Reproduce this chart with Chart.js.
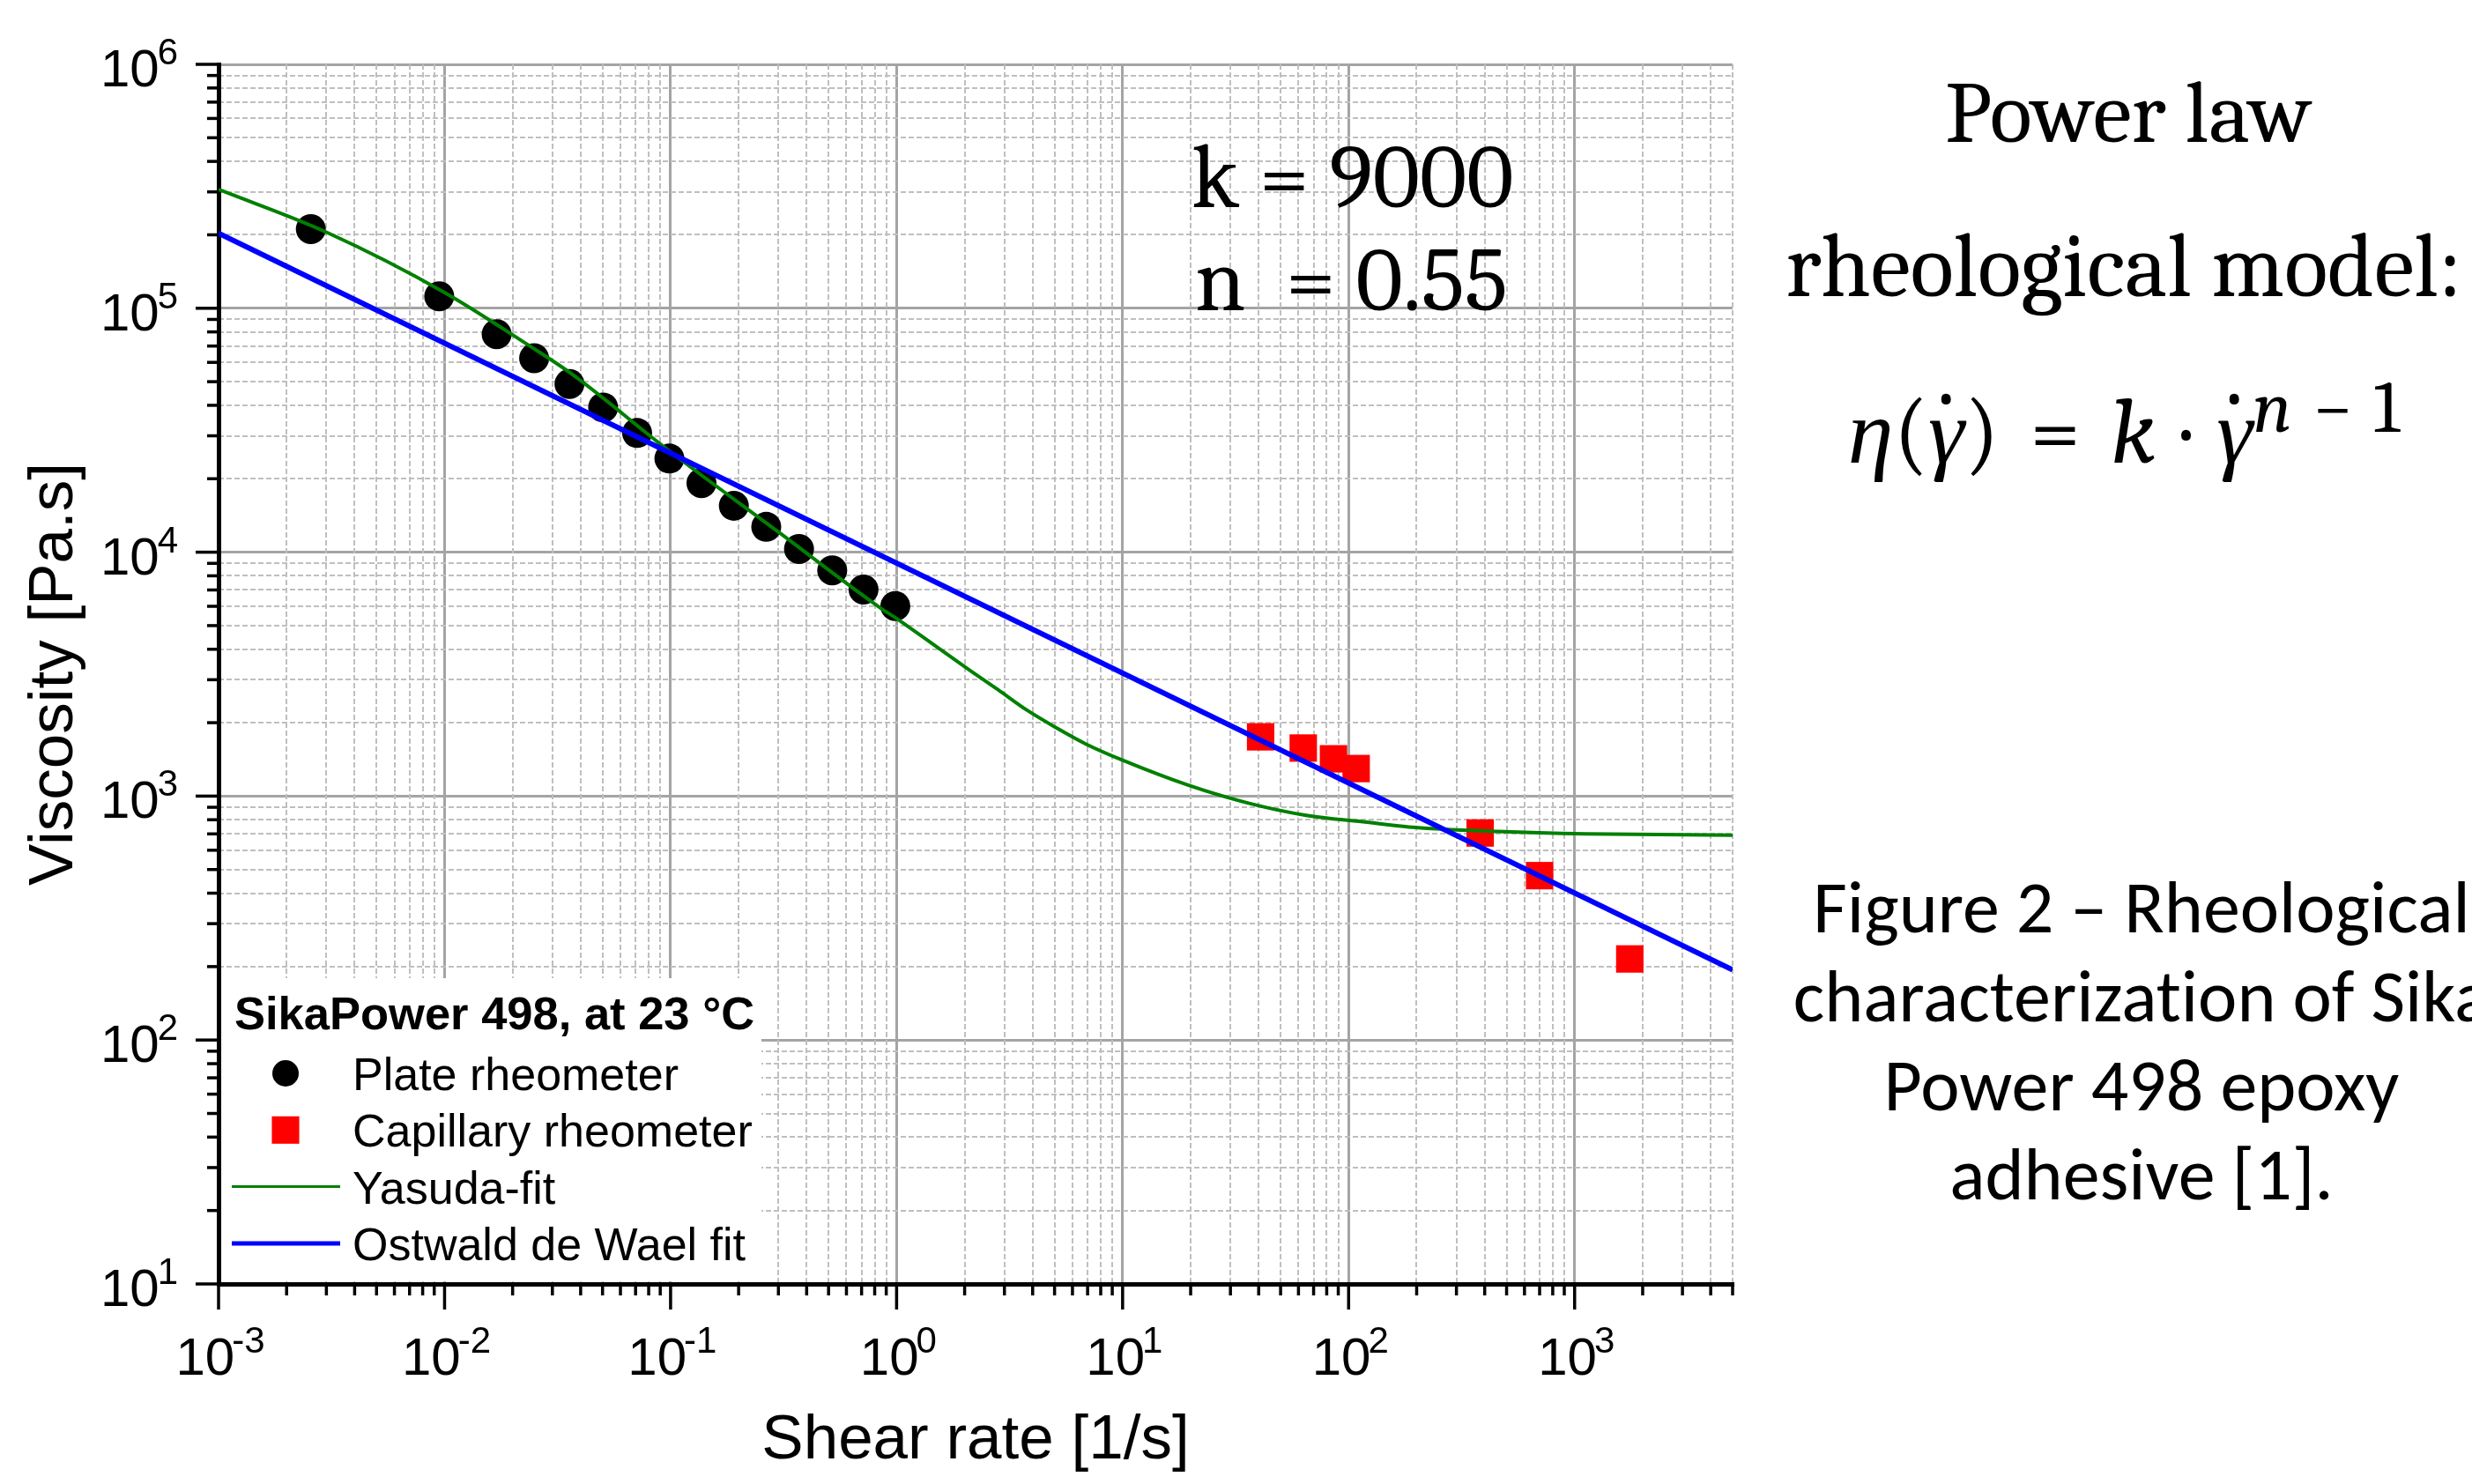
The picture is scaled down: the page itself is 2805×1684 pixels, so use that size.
<!DOCTYPE html>
<html>
<head>
<meta charset="utf-8">
<script src="https://cdn.jsdelivr.net/npm/chart.js@4.4.0/dist/chart.umd.min.js"></script>
<style>
  html, body { margin: 0; padding: 0; background: #fff; overflow: hidden; }
  #wrap { position: relative; width: 2805px; height: 1684px; overflow: hidden; }
  #chart { position: absolute; left: 0; top: 0; }
  .note { position: absolute; white-space: nowrap; color: #000; line-height: 1; }
  .serif { font-family: Cambria, "Liberation Serif", "DejaVu Serif", serif; }
  .center { width: 1000px; text-align: center; }
  .it { font-style: italic; }
  .op { margin: 0 0.33em; }
  .dotop { margin: 0 0.28em; }
  .dot { position: relative; }
  .dot::after { content: "\02D9"; position: absolute; left: 0.14em; top: 0; font-style: normal; }
  .sup { font-size: 0.8em; vertical-align: 0.42em; }
  .minus { margin: 0 0.28em; }
  .caption { font-family: Calibri, Carlito, Lato, sans-serif; text-align: center; width: 1000px; line-height: 101px; font-variant-ligatures: none; }
</style>
</head>
<body>
<div id="wrap">
  <canvas id="chart" width="2805" height="1684"></canvas>
  <div class="note serif" style="left:1352px; top:150px; font-size:103px;">k = 9000</div>
  <div class="note serif" style="left:1356px; top:267px; font-size:103px;">n &nbsp;= 0.55</div>
  <div class="note serif center" style="left:1915px; top:80px; font-size:99px;">Power law</div>
  <div class="note serif center" style="left:1910px; top:252px; font-size:102px;">rheological model:</div>
  <div class="note serif center" style="left:1910px; top:422px; font-size:104px;"><span class="it">η</span>(<span class="it dot">γ</span>)<span class="op">=</span><span class="it">k</span><span class="dotop">·</span><span class="it dot">γ</span><span class="sup"><span class="it">n</span><span class="minus">−</span>1</span></div>
  <div class="note caption" style="left:1930px; top:979px; font-size:84px;">Figure 2 – Rheological<br>characterization of Sika<br>Power 498 epoxy<br>adhesive [1].</div>
</div>
<script>
// data (shear rate in 1/s, viscosity in Pa.s)
const plateRate = [0.00256, 0.00947, 0.0170, 0.0249, 0.0357, 0.0503, 0.0711, 0.0988, 0.137, 0.1905, 0.265, 0.370, 0.519, 0.714, 0.987];
const plateVisc = [211000, 112000, 78300, 62400, 48900, 39200, 30800, 24200, 19200, 15500, 12700, 10300, 8420, 7030, 6010];

const capRate = [40.8, 63.0, 85.7, 108, 382, 700, 1754];
const capVisc = [1750, 1574, 1422, 1297, 706, 472, 215];

const yasudaRate = [0.001, 0.003, 0.01, 0.0235, 0.036, 0.0987, 0.3, 0.85, 1, 1.545, 2.08, 2.81, 3.79, 5.12, 6.9, 10, 19.6, 35.7, 64.9, 118, 185, 457, 1125, 5000];
const yasudaVisc = [307000, 205000, 116000, 70600, 54300, 26000, 12100, 5900, 5350, 4020, 3310, 2730, 2245, 1900, 1633, 1403, 1107, 938, 834, 783, 747, 716, 700, 692];

const owRate = [0.001, 5000];
const owVisc = [203000, 194];

// axis decades, labels are drawn as 10^n
const xDecades = [-3, -2, -1, 0, 1, 2, 3];
const yDecades = [1, 2, 3, 4, 5, 6];
const minorSteps = [1, 2, 3, 4, 5, 6, 7, 8, 9];
const xMin = 1e-3, xMax = 5000, yMin = 10, yMax = 1e6;

const legendTitle = "SikaPower 498, at 23 °C";
const legendOrder = ["Plate rheometer", "Capillary rheometer", "Yasuda-fit", "Ostwald de Wael fit"];

const sansFont = '"Liberation Sans", Arial, sans-serif';

function toPoints(xs, ys) {
  return xs.map((x, i) => ({ x: x, y: ys[i] }));
}

function isDecade(v) {
  let l = Math.log10(v);
  return Math.abs(l - Math.round(l)) < 1e-9;
}

function buildTickValues(decades, min, max) {
  let vals = [];
  decades.forEach((d) => {
    minorSteps.forEach((m) => {
      let v = parseFloat((m * Math.pow(10, d)).toPrecision(4));
      if (v >= min && v <= max) vals.push(v);
    });
  });
  return vals;
}

const xTickValues = buildTickValues(xDecades, xMin, xMax);
const yTickValues = buildTickValues(yDecades, yMin, yMax);

function setTicks(values) {
  return (scale) => {
    scale.ticks = values.map((v) => ({ value: v, major: isDecade(v) }));
  };
}

// major grid lines solid, minor ones come from the second (dashed) axis pair
function majorGrid(edge) {
  return (ctx) => (ctx.tick && ctx.tick.major && ctx.tick.value !== edge ? "#a4a4a4" : "rgba(0,0,0,0)");
}
function minorGrid(ctx) {
  return ctx.tick && !ctx.tick.major ? "#bfbfbf" : "rgba(0,0,0,0)";
}

function expText(v) {
  let e = Math.round(Math.log10(v));
  return e < 0 ? "-" + Math.abs(e) : String(e);
}

//tick marks and 10^n labels
const axisDecor = {
  id: "axisDecor",
  afterDraw(chart) {
    const ctx = chart.ctx;
    const a = chart.chartArea;
    const xs = chart.scales.x;
    const ys = chart.scales.y;
    ctx.save();
    ctx.strokeStyle = "#000";
    ctx.lineWidth = 3.5;
    xs.ticks.forEach((t) => {
      let px = xs.getPixelForValue(t.value);
      let len = t.major ? 29 : 13;
      ctx.beginPath();
      ctx.moveTo(px, a.bottom);
      ctx.lineTo(px, a.bottom + len);
      ctx.stroke();
    });
    ys.ticks.forEach((t) => {
      let py = ys.getPixelForValue(t.value);
      let len = t.major ? 26 : 13;
      ctx.beginPath();
      ctx.moveTo(a.left, py);
      ctx.lineTo(a.left - len, py);
      ctx.stroke();
    });

    ctx.fillStyle = "#000";
    ctx.textBaseline = "alphabetic";
    ctx.textAlign = "left";
    const baseFont = "60px " + sansFont;
    const expFont = "42px " + sansFont;
    xs.ticks.filter((t) => t.major).forEach((t) => {
      let px = xs.getPixelForValue(t.value);
      let ex = expText(t.value);
      ctx.font = baseFont;
      let wb = ctx.measureText("10").width;
      ctx.font = expFont;
      let we = ctx.measureText(ex).width;
      let left = px + 2 - (wb + we - 3) / 2;
      ctx.font = baseFont;
      ctx.fillText("10", left, a.bottom + 103);
      ctx.font = expFont;
      ctx.fillText(ex, left + wb - 3, a.bottom + 78);
    });
    ys.ticks.filter((t) => t.major).forEach((t) => {
      let py = ys.getPixelForValue(t.value);
      let ex = expText(t.value);
      ctx.font = expFont;
      let we = ctx.measureText(ex).width;
      let right = a.left - 46;
      ctx.fillText(ex, right - we, py);
      ctx.font = baseFont;
      let wb = ctx.measureText("10").width;
      ctx.fillText("10", right - we + 2 - wb, py + 25);
    });
    ctx.restore();
  },
};

// boxed legend in the lower left corner of the plot
const boxLegend = {
  id: "boxLegend",
  afterDraw(chart) {
    const ctx = chart.ctx;
    const a = chart.chartArea;
    ctx.save();
    ctx.fillStyle = "#fff";
    ctx.fillRect(a.left + 3, a.bottom - 347, 613, 344);
    ctx.fillStyle = "#000";
    ctx.textAlign = "left";
    ctx.textBaseline = "alphabetic";
    ctx.font = "bold 52.5px " + sansFont;
    ctx.fillText(legendTitle, a.left + 18, a.bottom - 289);

    legendOrder.forEach((name, i) => {
      let ds = chart.data.datasets.find((d) => d.label === name);
      let base = a.bottom - 220 + i * 64.3;
      let my = base - 19;
      let mx = a.left + 76;
      if (ds.showLine) {
        ctx.strokeStyle = ds.borderColor;
        ctx.lineWidth = ds.borderWidth - 1;
        ctx.beginPath();
        ctx.moveTo(a.left + 15, my);
        ctx.lineTo(a.left + 138, my);
        ctx.stroke();
      } else if (ds.pointStyle === "rect") {
        let s = ds.pointRadius * Math.SQRT1_2;
        ctx.fillStyle = ds.backgroundColor;
        ctx.fillRect(mx - s, my - s, 2 * s, 2 * s);
      } else {
        ctx.fillStyle = ds.backgroundColor;
        ctx.beginPath();
        ctx.arc(mx, my, ds.pointRadius - 2, 0, Math.PI * 2);
        ctx.fill();
      }
      ctx.fillStyle = "#000";
      ctx.font = "52px " + sansFont;
      ctx.fillText(name, a.left + 152, base);
    });
    ctx.restore();
  },
};

const config = {
  type: "scatter",
  data: {
    datasets: [
      {
        label: "Ostwald de Wael fit",
        data: toPoints(owRate, owVisc),
        showLine: true,
        borderColor: "#0000ff",
        borderWidth: 6,
        pointRadius: 0,
        order: 1,
      },
      {
        label: "Yasuda-fit",
        data: toPoints(yasudaRate, yasudaVisc),
        showLine: true,
        borderColor: "#008000",
        borderWidth: 4,
        pointRadius: 0,
        cubicInterpolationMode: "monotone",
        order: 2,
      },
      {
        label: "Plate rheometer",
        data: toPoints(plateRate, plateVisc),
        pointStyle: "circle",
        pointRadius: 17,
        backgroundColor: "#000000",
        borderWidth: 0,
        order: 3,
      },
      {
        label: "Capillary rheometer",
        data: toPoints(capRate, capVisc),
        pointStyle: "rect",
        pointRadius: 22,
        backgroundColor: "#ff0000",
        borderWidth: 0,
        order: 4,
      },
    ],
  },
  options: {
    responsive: false,
    animation: false,
    events: [],
    layout: { padding: { left: 0, top: 73, right: 2805 - 1966, bottom: 0 } },
    plugins: {
      legend: { display: false },
      tooltip: { enabled: false },
    },
    scales: {
      x: {
        type: "logarithmic",
        position: "bottom",
        min: xMin,
        max: xMax,
        afterBuildTicks: setTicks(xTickValues),
        afterFit: (s) => { s.height = 1684 - 1457; },
        ticks: { display: false },
        grid: { color: majorGrid(xMin), lineWidth: 3, drawTicks: false },
        border: { color: "#000", width: 5 },
        title: {
          display: true,
          text: "Shear rate [1/s]",
          color: "#000",
          font: { family: sansFont, size: 71 },
          padding: { top: 0, bottom: 6 },
        },
      },
      y: {
        type: "logarithmic",
        position: "left",
        min: yMin,
        max: yMax,
        afterBuildTicks: setTicks(yTickValues),
        afterFit: (s) => { s.width = 248; },
        ticks: { display: false },
        grid: { color: majorGrid(yMin), lineWidth: 3, drawTicks: false },
        border: { color: "#000", width: 5 },
        title: {
          display: true,
          text: "Viscosity [Pa.s]",
          color: "#000",
          font: { family: sansFont, size: 71 },
          padding: { top: 20, bottom: 0 },
        },
      },
      xMinor: {
        type: "logarithmic",
        position: "top",
        min: xMin,
        max: xMax,
        afterBuildTicks: setTicks(xTickValues),
        afterFit: (s) => { s.height = 0; },
        ticks: { display: false },
        grid: { color: minorGrid, lineWidth: 2, drawTicks: false, z: -1 },
        border: { display: false, dash: [6, 3] },
      },
      yMinor: {
        type: "logarithmic",
        position: "right",
        min: yMin,
        max: yMax,
        afterBuildTicks: setTicks(yTickValues),
        afterFit: (s) => { s.width = 0; },
        ticks: { display: false },
        grid: { color: minorGrid, lineWidth: 2, drawTicks: false, z: -1 },
        border: { display: false, dash: [6, 3] },
      },
    },
  },
  plugins: [axisDecor, boxLegend],
};

new Chart(document.getElementById("chart").getContext("2d"), config);
</script>
</body>
</html>
